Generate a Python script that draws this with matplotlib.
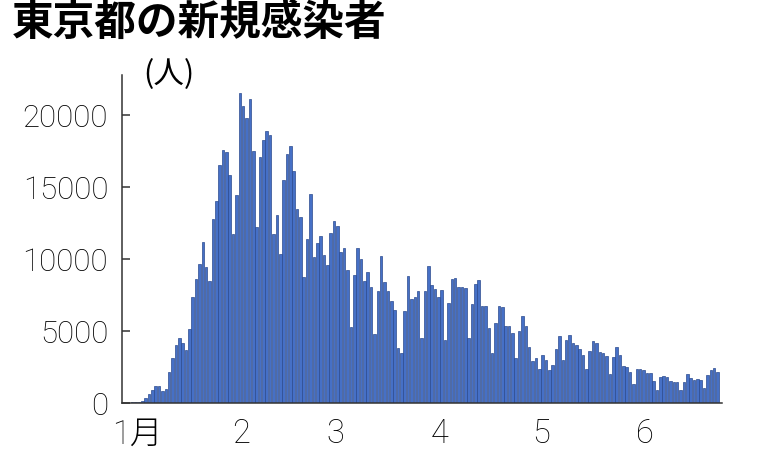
import matplotlib
matplotlib.use("Agg")
import matplotlib.pyplot as plt
import numpy as np

# 東京都の新規感染者 (2022/1/1 - 6/24), daily counts
jan = [79, 84, 103, 151, 390, 641, 922, 1224, 1223, 871, 962, 2198, 3124, 4051,
       4561, 4172, 3719, 5185, 7377, 8638, 9699, 11227, 9468, 8503, 12813, 14086,
       16538, 17631, 17433, 15895, 11751]
feb = [14445, 21576, 20679, 19798, 21122, 17526, 12216, 17113, 18287, 18891,
       18660, 11780, 13080, 10360, 15540, 17350, 17860, 16120, 13520, 12940,
       8800, 11430, 14560, 10130, 11130, 11590, 10310, 9620]
mar = [11830, 12660, 12290, 10500, 10790, 9270, 5320, 8920, 10820, 10030, 8480,
       9150, 8100, 4810, 7830, 10240, 8450, 7830, 7100, 6480, 3860, 3510, 6420,
       8870, 7250, 7410, 7830, 4550, 7830, 9520, 8220]
apr = [7940, 7370, 7850, 4390, 6990, 8660, 8730, 8100, 8100, 7990, 4550, 6920,
       8270, 8530, 6760, 6760, 5200, 3460, 5580, 6760, 6710, 5370, 5370, 4910,
       3110, 5020, 6030, 5350, 3880, 2940]
may = [3110, 2360, 3340, 2980, 2280, 2650, 3760, 4680, 2980, 4420, 4740, 4180,
       4060, 3780, 3320, 2350, 3630, 4320, 4160, 3530, 3460, 3250, 2000, 3230,
       3900, 3340, 2580, 2510, 2160, 1300, 2350]
jun = [2370, 2300, 2070, 2070, 1530, 950, 1790, 1900, 1830, 1530, 1490, 1490,
       910, 1490, 2000, 1770, 1600, 1650, 1600, 1020, 1950, 2300, 2420, 2140]

months = [jan, feb, mar, apr, may, jun]
month_labels = ["1月", "2", "3", "4", "5", "6"]
y_ticks = [0, 5000, 10000, 15000, 20000]

cases = np.concatenate(months)
days = np.arange(len(cases))
month_starts = np.cumsum([0] + [len(m) for m in months[:-1]])

fig = plt.figure(figsize=(7.68, 4.53), dpi=100)
ax = fig.add_axes([0.159, 0.110, 0.781, 0.724])

ax.bar(days, cases, width=0.76, color="#4670c6", edgecolor="#2b4a8e",
       linewidth=0.5)

ax.set_xlim(-3, len(cases) + 0.3)
ax.set_ylim(0, 22800)

tick_font = ["Roboto", "Noto Sans CJK JP"]
ax.set_yticks(y_ticks)
ax.set_yticklabels([str(v) for v in y_ticks], family=tick_font, fontsize=22.5,
                   fontweight="light")
ax.set_xticks(month_starts + 1.5)
ax.set_xticklabels(month_labels, family=tick_font, fontsize=23.5,
                   fontweight="light")

ax.tick_params(axis="y", direction="in", length=6, width=1.1, pad=10,
               color="#333333")
ax.tick_params(axis="x", length=0, pad=11)

for side in ["top", "right"]:
    ax.spines[side].set_visible(False)
for side in ["left", "bottom"]:
    ax.spines[side].set_linewidth(1.1)
    ax.spines[side].set_color("#333333")

fig.text(0.015, 0.995, "東京都の新規感染者", family="Noto Sans CJK JP",
         fontweight="bold", fontsize=30, va="top", ha="left")
fig.text(0.187, 0.835, "(人)", family=["Noto Sans CJK JP", "DejaVu Sans"],
         fontsize=22, va="center", ha="left")

fig.savefig("out.png", dpi=100, facecolor="white")
